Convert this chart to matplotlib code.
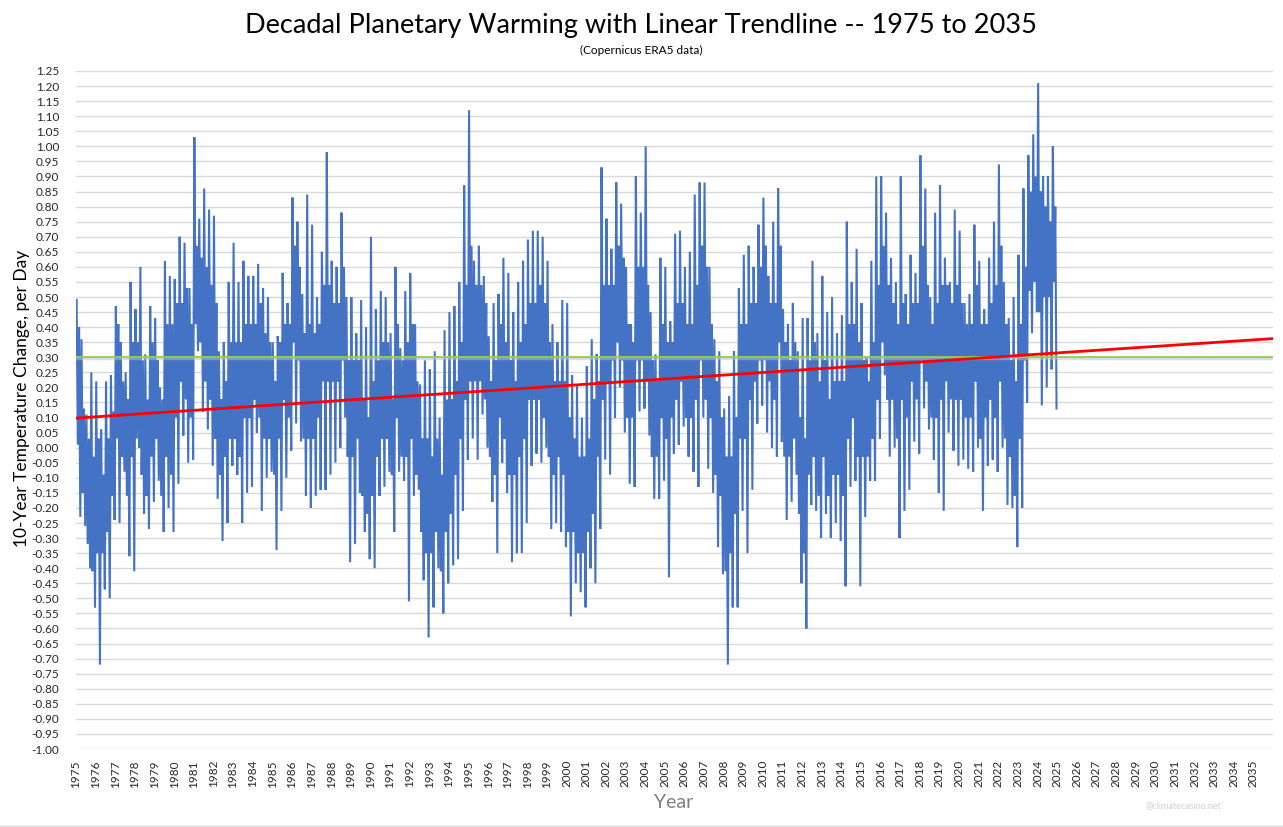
import numpy as np
import matplotlib
matplotlib.use('Agg')
import matplotlib.pyplot as plt
from matplotlib.lines import Line2D

# ---------------- data ----------------
years = list(range(1975, 2025))

# per-quarter extreme upper / lower excursions of the daily series
q_hi = [
    0.49, 0.36, 0.11, 0.25,   # 1975
    0.22, 0.06, 0.22, 0.24,   # 1976
    0.47, 0.35, 0.25, 0.55,   # 1977
    0.46, 0.60, 0.31, 0.47,   # 1978
    0.43, 0.20, 0.62, 0.57,   # 1979
    0.56, 0.70, 0.68, 0.53,   # 1980
    1.03, 0.76, 0.86, 0.79,   # 1981
    0.77, 0.32, 0.35, 0.55,   # 1982
    0.68, 0.55, 0.62, 0.57,   # 1983
    0.57, 0.61, 0.53, 0.50,   # 1984
    0.35, 0.37, 0.58, 0.48,   # 1985
    0.83, 0.75, 0.51, 0.84,   # 1986
    0.74, 0.50, 0.65, 0.98,   # 1987
    0.62, 0.60, 0.78, 0.50,   # 1988
    0.50, 0.38, 0.49, 0.40,   # 1989
    0.70, 0.46, 0.52, 0.50,   # 1990
    0.38, 0.60, 0.33, 0.52,   # 1991
    0.58, 0.41, 0.21, 0.29,   # 1992
    0.26, 0.32, 0.10, 0.39,   # 1993
    0.45, 0.47, 0.55, 0.87,   # 1994
    1.12, 0.62, 0.67, 0.57,   # 1995
    0.37, 0.48, 0.51, 0.63,   # 1996
    0.58, 0.45, 0.55, 0.62,   # 1997
    0.69, 0.72, 0.72, 0.70,   # 1998
    0.62, 0.41, 0.35, 0.49,   # 1999
    0.48, 0.24, 0.21, 0.10,   # 2000
    0.27, 0.36, 0.31, 0.93,   # 2001
    0.76, 0.66, 0.88, 0.81,   # 2002
    0.60, 0.41, 0.90, 0.78,   # 2003
    1.00, 0.45, 0.31, 0.63,   # 2004
    0.60, 0.42, 0.71, 0.72,   # 2005
    0.60, 0.65, 0.84, 0.88,   # 2006
    0.88, 0.60, 0.36, 0.32,   # 2007
    0.13, 0.17, 0.32, 0.53,   # 2008
    0.64, 0.67, 0.60, 0.74,   # 2009
    0.83, 0.57, 0.75, 0.86,   # 2010
    0.46, 0.41, 0.48, 0.32,   # 2011
    0.43, 0.43, 0.62, 0.38,   # 2012
    0.57, 0.45, 0.50, 0.38,   # 2013
    0.44, 0.75, 0.55, 0.66,   # 2014
    0.48, 0.30, 0.62, 0.90,   # 2015
    0.90, 0.78, 0.63, 0.55,   # 2016
    0.90, 0.51, 0.64, 0.58,   # 2017
    0.97, 0.86, 0.50, 0.78,   # 2018
    0.87, 0.63, 0.55, 0.79,   # 2019
    0.72, 0.48, 0.51, 0.74,   # 2020
    0.62, 0.46, 0.63, 0.75,   # 2021
    0.94, 0.55, 0.43, 0.50,   # 2022
    0.64, 0.86, 0.97, 1.04,   # 2023
    1.21, 0.90, 0.90, 1.00,   # 2024
]
q_lo = [
    -0.23, -0.26, -0.40, -0.53,   # 1975
    -0.72, -0.47, -0.50, -0.24,   # 1976
    -0.25, -0.08, -0.36, -0.41,   # 1977
     0.00, -0.22, -0.27, -0.18,   # 1978
    -0.11, -0.28, -0.20, -0.28,   # 1979
    -0.12,  0.04, -0.05, -0.04,   # 1980
     0.32,  0.12,  0.06, -0.06,   # 1981
    -0.17, -0.31, -0.25, -0.06,   # 1982
    -0.09, -0.25, -0.15, -0.13,   # 1983
     0.05, -0.21, -0.10, -0.08,   # 1984
    -0.34, -0.21, -0.10, -0.01,   # 1985
     0.08,  0.02, -0.16, -0.20,   # 1986
    -0.16, -0.14, -0.14, -0.09,   # 1987
    -0.05,  0.00,  0.10, -0.38,   # 1988
    -0.32, -0.15, -0.28, -0.37,   # 1989
    -0.40, -0.16, -0.13, -0.08,   # 1990
    -0.28, -0.08, -0.11, -0.51,   # 1991
    -0.16, -0.14, -0.44, -0.63,   # 1992
    -0.53, -0.40, -0.55, -0.45,   # 1993
    -0.39, -0.37, -0.21, -0.04,   # 1994
     0.03, -0.04,  0.11,  0.00,   # 1995
    -0.18, -0.35, -0.05, -0.15,   # 1996
    -0.38, -0.35, -0.35, -0.25,   # 1997
    -0.06, -0.02, -0.05,  0.00,   # 1998
    -0.27, -0.25, -0.28, -0.33,   # 1999
    -0.56, -0.45, -0.48, -0.53,   # 2000
    -0.40, -0.45, -0.27, -0.04,   # 2001
    -0.09,  0.10,  0.20,  0.05,   # 2002
    -0.12, -0.13,  0.12,  0.13,   # 2003
     0.04, -0.17, -0.17, -0.11,   # 2004
    -0.43, -0.02,  0.01,  0.07,   # 2005
    -0.03, -0.08, -0.13,  0.10,   # 2006
    -0.07, -0.15, -0.33, -0.42,   # 2007
    -0.72, -0.53, -0.53, -0.21,   # 2008
    -0.35, -0.14,  0.08,  0.14,   # 2009
     0.05,  0.00, -0.03,  0.02,   # 2010
    -0.24, -0.18, -0.09, -0.45,   # 2011
    -0.60, -0.19, -0.21, -0.30,   # 2012
    -0.22, -0.30, -0.25, -0.31,   # 2013
    -0.46, -0.13, -0.11, -0.46,   # 2014
    -0.23, -0.11, -0.11,  0.03,   # 2015
     0.24, -0.03,  0.00, -0.30,   # 2016
    -0.21, -0.14,  0.02, -0.02,   # 2017
     0.13,  0.06, -0.04, -0.15,   # 2018
    -0.21,  0.05, -0.01, -0.06,   # 2019
    -0.04, -0.07, -0.08,  0.00,   # 2020
    -0.21, -0.06, -0.04, -0.08,   # 2021
     0.00, -0.19, -0.20, -0.33,   # 2022
    -0.20,  0.15,  0.38,  0.45,   # 2023
     0.14,  0.20,  0.26,  0.13,   # 2024
]

# per-quarter upper / lower edge of the dense core of the daily series
core_hi = [
    0.40, 0.13, 0.03, -0.03,   # 1975
    0.03, -0.09, 0.03, 0.12,   # 1976
    0.41, 0.22, 0.16, 0.35,    # 1977
    0.35, 0.29, 0.16, 0.35,    # 1978
    0.29, 0.16, 0.41, 0.41,    # 1979
    0.48, 0.48, 0.53, 0.41,    # 1980
    0.67, 0.63, 0.60, 0.54,    # 1981
    0.48, 0.16, 0.22, 0.35,    # 1982
    0.35, 0.35, 0.41, 0.41,    # 1983
    0.41, 0.48, 0.38, 0.35,    # 1984
    0.22, 0.35, 0.41, 0.41,    # 1985
    0.67, 0.60, 0.38, 0.41,    # 1986
    0.38, 0.41, 0.54, 0.54,    # 1987
    0.48, 0.48, 0.60, 0.29,    # 1988
    0.29, 0.29, 0.16, 0.10,    # 1989
    0.22, 0.29, 0.35, 0.35,    # 1990
    0.16, 0.41, 0.29, 0.35,    # 1991
    0.41, 0.22, 0.03, 0.03,    # 1992
    -0.03, 0.03, -0.09, 0.16,  # 1993
    0.16, 0.22, 0.35, 0.54,    # 1994
    0.67, 0.54, 0.54, 0.48,    # 1995
    0.22, 0.29, 0.41, 0.35,    # 1996
    0.29, 0.22, 0.35, 0.41,    # 1997
    0.48, 0.48, 0.54, 0.48,    # 1998
    0.35, 0.22, 0.22, 0.22,    # 1999
    0.10, 0.03, -0.03, -0.03,  # 2000
    0.03, 0.16, 0.22, 0.54,    # 2001
    0.54, 0.54, 0.67, 0.63,    # 2002
    0.41, 0.35, 0.60, 0.60,    # 2003
    0.54, 0.29, 0.22, 0.41,    # 2004
    0.35, 0.35, 0.48, 0.48,    # 2005
    0.41, 0.41, 0.54, 0.67,    # 2006
    0.60, 0.41, 0.22, 0.10,    # 2007
    -0.03, -0.03, 0.10, 0.41,  # 2008
    0.41, 0.48, 0.48, 0.60,    # 2009
    0.67, 0.48, 0.48, 0.67,    # 2010
    0.35, 0.29, 0.35, 0.10,    # 2011
    0.03, 0.29, 0.35, 0.22,    # 2012
    0.29, 0.16, 0.22, 0.22,    # 2013
    0.22, 0.41, 0.41, 0.35,    # 2014
    0.29, 0.22, 0.35, 0.54,    # 2015
    0.67, 0.54, 0.48, 0.41,    # 2016
    0.48, 0.41, 0.48, 0.48,    # 2017
    0.67, 0.54, 0.41, 0.48,    # 2018
    0.54, 0.54, 0.48, 0.54,    # 2019
    0.48, 0.41, 0.41, 0.54,    # 2020
    0.41, 0.41, 0.48, 0.54,    # 2021
    0.67, 0.41, 0.29, 0.22,    # 2022
    0.41, 0.60, 0.85, 0.90,    # 2023
    0.85, 0.80, 0.75, 0.80,    # 2024
]
core_lo = [
    0.01, -0.15, -0.32, -0.41,   # 1975
    -0.35, -0.35, -0.28, -0.16,  # 1976
    0.03, -0.03, -0.16, -0.03,   # 1977
    0.03, -0.09, -0.16, -0.03,   # 1978
    0.03, -0.16, -0.03, -0.09,   # 1979
    0.10, 0.22, 0.16, 0.10,      # 1980
    0.41, 0.35, 0.22, 0.16,      # 1981
    0.03, -0.09, -0.03, 0.03,    # 1982
    0.03, -0.03, 0.10, 0.10,     # 1983
    0.16, 0.10, 0.03, 0.03,      # 1984
    -0.09, 0.03, 0.16, 0.10,     # 1985
    0.35, 0.29, 0.03, 0.03,      # 1986
    0.03, 0.10, 0.22, 0.22,      # 1987
    0.22, 0.22, 0.29, -0.03,     # 1988
    -0.03, 0.03, -0.16, -0.22,   # 1989
    -0.16, -0.03, 0.03, 0.03,    # 1990
    -0.09, 0.10, -0.03, -0.03,   # 1991
    0.03, -0.09, -0.28, -0.35,   # 1992
    -0.35, -0.28, -0.41, -0.28,  # 1993
    -0.22, -0.09, 0.03, 0.16,    # 1994
    0.22, 0.22, 0.22, 0.16,      # 1995
    -0.03, -0.09, 0.10, 0.03,    # 1996
    -0.09, -0.09, -0.03, 0.03,   # 1997
    0.16, 0.16, 0.16, 0.10,      # 1998
    -0.03, -0.09, -0.03, -0.09,  # 1999
    -0.28, -0.28, -0.35, -0.35,  # 2000
    -0.28, -0.22, -0.03, 0.16,   # 2001
    0.22, 0.29, 0.35, 0.29,      # 2002
    0.10, 0.10, 0.29, 0.29,      # 2003
    0.22, -0.03, -0.03, 0.10,    # 2004
    0.03, 0.10, 0.16, 0.22,      # 2005
    0.10, 0.10, 0.16, 0.29,      # 2006
    0.16, 0.10, -0.09, -0.16,    # 2007
    -0.41, -0.35, -0.22, 0.03,   # 2008
    0.03, 0.16, 0.22, 0.29,      # 2009
    0.29, 0.22, 0.16, 0.35,      # 2010
    -0.03, -0.03, 0.03, -0.22,   # 2011
    -0.35, -0.09, -0.03, -0.16,  # 2012
    -0.03, -0.16, -0.09, -0.09,  # 2013
    -0.16, 0.03, 0.10, -0.03,    # 2014
    -0.03, -0.03, 0.03, 0.16,    # 2015
    0.35, 0.16, 0.16, 0.03,      # 2016
    0.16, 0.10, 0.22, 0.16,      # 2017
    0.29, 0.22, 0.10, 0.10,      # 2018
    0.16, 0.22, 0.16, 0.16,      # 2019
    0.16, 0.10, 0.10, 0.22,      # 2020
    0.03, 0.10, 0.16, 0.10,      # 2021
    0.22, 0.03, -0.03, -0.16,    # 2022
    0.03, 0.29, 0.52, 0.55,      # 2023
    0.45, 0.50, 0.50, 0.55,      # 2024
]

trend_years = [1975, 2036]
trend_values = [0.098, 0.362]
reference_level = 0.30

x_tick_years = list(range(1975, 2036))
y_ticks = [round(-1.00 + 0.05 * i, 2) + 0.0 for i in range(46)]

title = "Decadal Planetary Warming with Linear Trendline -- 1975 to 2035"
subtitle = "(Copernicus ERA5 data)"
y_label = "10-Year Temperature Change, per Day"
x_label = "Year"
watermark = "@climatecasino.net"

# ---------------- build series ----------------
t = []
v = []
for i, yr in enumerate(years):
    for q in range(4):
        k = i * 4 + q
        base = yr + q * 0.25
        for j, val in enumerate((q_hi[k], core_lo[k], core_hi[k], q_lo[k])):
            t.append(base + 0.03125 + j * 0.0625)
            v.append(val)

# ---------------- figure ----------------
plt.rcParams['font.family'] = ['Lato', 'DejaVu Sans']
fig = plt.figure(figsize=(12.83, 8.27), dpi=100)
ax = fig.add_axes([76 / 1283, (827 - 749) / 827, (1273 - 76) / 1283, (749 - 71) / 827])

ax.plot(t, v, color='#4472C4', lw=1.5, solid_joinstyle='miter', zorder=3)
ax.plot([1975, 2036], [reference_level - 0.004] * 2, color='#BFBFBF', lw=2.5, alpha=0.5, zorder=3.5)
ax.plot([1975, 2036], [reference_level] * 2, color='#92D050', lw=1.3, zorder=4)
ax.plot(trend_years, trend_values, color='#FF0000', lw=2.0, zorder=5)

ax.set_xlim(1975, 2036)
ax.set_ylim(-1.0, 1.25)
ax.set_yticks(y_ticks)
ax.set_yticklabels([f"{y:.2f}" for y in y_ticks], fontsize=8.5, color='#262626')
ax.set_xticks(x_tick_years)
ax.set_xticklabels([str(y) for y in x_tick_years], rotation=90, fontsize=8.5, color='#262626')
ax.tick_params(axis='both', length=0)
ax.tick_params(axis='y', pad=12)
ax.tick_params(axis='x', pad=8)
ax.yaxis.grid(True, color='#D9D9D9', lw=1.0)
ax.set_axisbelow(True)
for s in ax.spines.values():
    s.set_visible(False)

fig.text(641 / 1283, 1 - 25 / 827, title, ha='center', va='center', fontsize=19.5, color='#000000')
fig.text(641 / 1283, 1 - 50 / 827, subtitle, ha='center', va='center', fontsize=8.5, color='#000000')
fig.text(22 / 1283, 1 - 398 / 827, y_label, ha='center', va='center', rotation=90, fontsize=12.5, color='#000000')
fig.text(674 / 1283, 1 - 802 / 827, x_label, ha='center', va='center', fontsize=14, color='#7F7F7F')
fig.text(1183 / 1283, 1 - 806 / 827, watermark, ha='center', va='center', fontsize=6.5, color='#D0D0D0')

fig.add_artist(Line2D([0, 1], [1 - 826 / 827] * 2, transform=fig.transFigure, color='#D9D9D9', lw=1))

fig.savefig('out.png', dpi=100, facecolor='white')
